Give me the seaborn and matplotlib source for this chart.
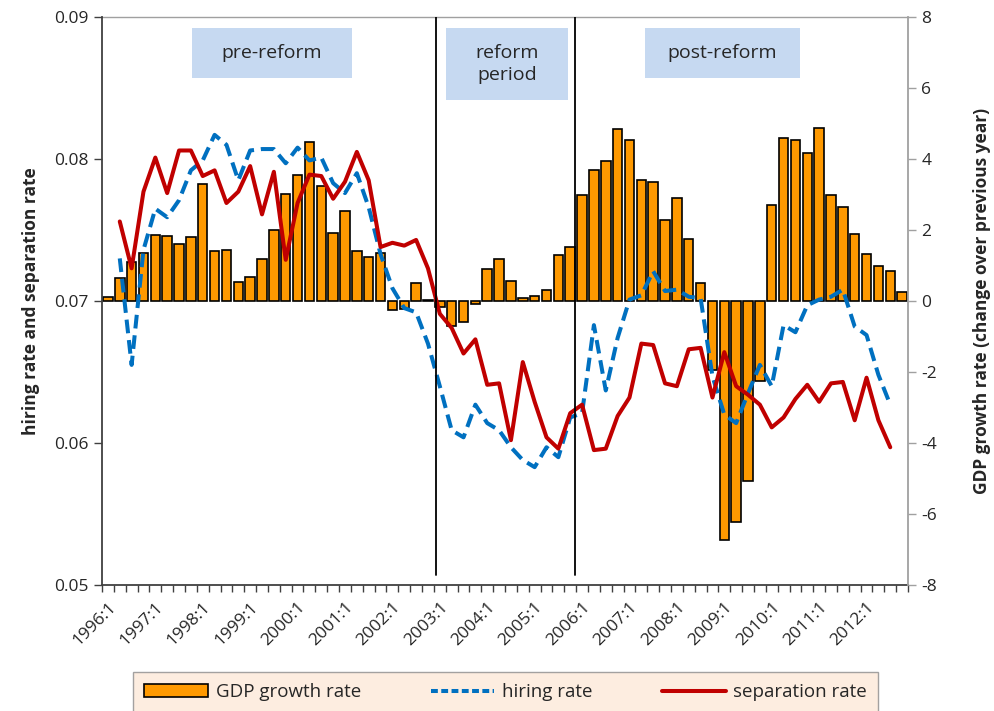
import numpy as np
import pandas as pd
import matplotlib
matplotlib.use("Agg")
import matplotlib.pyplot as plt
import seaborn as sns
from matplotlib.patches import Patch, Rectangle
from matplotlib.lines import Line2D

nan = np.nan

# quarters 1996:1 .. 2012:4
years = list(range(1996, 2013))
quarters = [f"{y}:{q}" for y in years for q in range(1, 5)]

# GDP growth rate (right axis)
gdp = [0.10, 0.66, 1.09, 1.34, 1.85, 1.83, 1.61, 1.81, 3.30, 1.42,
       1.44, 0.54, 0.69, 1.17, 2.00, 3.01, 3.55, 4.47, 3.25, 1.91,
       2.54, 1.41, 1.25, 1.36, -0.25, -0.23, 0.52, 0.02, -0.18, -0.70,
       -0.58, -0.08, 0.90, 1.17, 0.56, 0.09, 0.14, 0.31, 1.30, 1.51,
       2.99, 3.68, 3.93, 4.85, 4.54, 3.41, 3.34, 2.28, 2.91, 1.76,
       0.52, -1.94, -6.73, -6.22, -5.08, -2.25, 2.70, 4.60, 4.54, 4.16,
       4.87, 2.99, 2.66, 1.88, 1.32, 0.99, 0.85, 0.26]

# hiring rate (left axis)
hiring = [nan, 0.0730, 0.0655, 0.0736, 0.0765, 0.0759, 0.0771, 0.0792, 0.0799, 0.0817,
          0.0810, 0.0785, 0.0806, 0.0807, 0.0807, 0.0797, 0.0808, 0.0799, 0.0801, 0.0783,
          0.0776, 0.0790, 0.0766, 0.0733, 0.0709, 0.0695, 0.0692, 0.0670, 0.0640, 0.0609,
          0.0604, 0.0627, 0.0614, 0.0609, 0.0597, 0.0588, 0.0583, 0.0597, 0.0590, 0.0618,
          0.0621, 0.0683, 0.0637, 0.0674, 0.0701, 0.0704, 0.0721, 0.0707, 0.0708, 0.0703,
          0.0702, 0.0647, 0.0620, 0.0614, 0.0635, 0.0655, 0.0640, 0.0683, 0.0678, 0.0697,
          0.0701, 0.0703, 0.0708, 0.0682, 0.0676, 0.0648, 0.0627, nan]

# separation rate (left axis)
separation = [nan, 0.0756, 0.0723, 0.0777, 0.0801, 0.0776, 0.0806, 0.0806, 0.0788, 0.0792,
              0.0769, 0.0777, 0.0795, 0.0761, 0.0791, 0.0729, 0.0769, 0.0789, 0.0788, 0.0772,
              0.0784, 0.0805, 0.0785, 0.0738, 0.0741, 0.0739, 0.0743, 0.0723, 0.0691, 0.0681,
              0.0663, 0.0673, 0.0641, 0.0642, 0.0602, 0.0657, 0.0629, 0.0604, 0.0596, 0.0621,
              0.0627, 0.0595, 0.0596, 0.0619, 0.0632, 0.0670, 0.0669, 0.0642, 0.0640, 0.0666,
              0.0667, 0.0632, 0.0664, 0.0640, 0.0634, 0.0627, 0.0611, 0.0618, 0.0631, 0.0641,
              0.0629, 0.0642, 0.0643, 0.0616, 0.0646, 0.0616, 0.0597, nan]

period_breaks = [27.7, 39.4]
period_names = ["pre-reform", "reform\nperiod", "post-reform"]

left_ticks = [0.05, 0.06, 0.07, 0.08, 0.09]
right_ticks = [-8, -6, -4, -2, 0, 2, 4, 6, 8]

df = pd.DataFrame({"quarter": quarters, "pos": np.arange(len(quarters)),
                   "gdp": gdp, "hiring": hiring, "separation": separation})

sns.set_style("white")
plt.rcParams["font.family"] = ["Open Sans", "DejaVu Sans"]

orange = "#ff9900"
blue = "#0070c0"
red = "#c00000"

fig = plt.figure(figsize=(9.95, 7.11), dpi=100)
ax = fig.add_axes([0.1025, 0.1772, 0.8101, 0.7989])
ax2 = ax.twinx()

# bars on the GDP (right) axis
sns.barplot(data=df, x="quarter", y="gdp", ax=ax, color=orange, saturation=1,
            edgecolor="black", linewidth=1.2, width=0.8)
ax.set_ylim(-8, 8)
ax.yaxis.tick_right()
ax.yaxis.set_label_position("right")
ax.set_yticks(right_ticks)
ax.set_yticklabels([str(t) for t in right_ticks], fontsize=12.5)
ax.set_ylabel("GDP growth rate (change over previous year)", fontsize=12.5,
              fontweight="bold", labelpad=26)
ax.set_xlabel("")

# lines on the rates (left) axis
sns.lineplot(data=df, x="pos", y="hiring", ax=ax2, color=blue, linewidth=2.9)
ax2.lines[-1].set_dashes((3.4, 1.7))
sns.lineplot(data=df, x="pos", y="separation", ax=ax2, color=red, linewidth=2.9)
ax2.set_ylim(0.05, 0.09)
ax2.yaxis.tick_left()
ax2.yaxis.set_label_position("left")
ax2.set_yticks(left_ticks)
ax2.set_yticklabels([f"{t:.2f}" for t in left_ticks], fontsize=12.5)
ax2.set_ylabel("hiring rate and separation rate", fontsize=12.5,
               fontweight="bold", labelpad=10)
ax2.set_xlabel("")

for b in period_breaks:
    ax2.axvline(b, ymin=0.018, ymax=1, color="black", linewidth=1.3)

# x axis: labels every 4 quarters, ticks at category boundaries
ax.set_xlim(-0.5, len(quarters) - 0.5)
ax.set_xticks(df["pos"][::4])
ax.set_xticklabels(df["quarter"][::4], rotation=45, ha="right",
                   rotation_mode="anchor", fontsize=12.5)
ax.set_xticks(np.arange(-0.5, len(quarters), 1), minor=True)
ax.tick_params(axis="x", which="major", length=0, pad=10)
ax.tick_params(axis="x", which="minor", length=5, width=1, color="#404040",
               direction="out", bottom=True)
ax.tick_params(axis="y", length=6, width=1, color="#a0a0a0", direction="out", right=True)
ax2.tick_params(axis="y", length=6, width=1, color="#404040", direction="out", left=True)

for s in ["left", "right", "top", "bottom"]:
    ax2.spines[s].set_visible(False)
    ax.spines[s].set_visible(False)
ax2.spines["left"].set_visible(True)
ax2.spines["left"].set_color("#404040")
ax2.spines["left"].set_linewidth(1.3)
ax2.spines["right"].set_visible(True)
ax2.spines["right"].set_color("#a0a0a0")
ax2.spines["right"].set_linewidth(1.3)
ax.spines["bottom"].set_visible(True)
ax.spines["bottom"].set_color("#404040")
ax.spines["bottom"].set_linewidth(1.3)
ax.spines["top"].set_visible(True)
ax.spines["top"].set_color("#a0a0a0")
ax.spines["top"].set_linewidth(1.0)

# period boxes
box_specs = [(0.1117, 0.8926, 0.1985, 0.088),
             (0.4268, 0.8539, 0.1514, 0.1268),
             (0.6737, 0.8926, 0.1923, 0.088)]
for name, (bx, by, bw, bh) in zip(period_names, box_specs):
    ax2.add_patch(Rectangle((bx, by), bw, bh, transform=ax2.transAxes,
                            facecolor="#c6d9f1", edgecolor="none", zorder=5))
    ax2.text(bx + bw / 2, by + bh / 2, name, transform=ax2.transAxes,
             ha="center", va="center", fontsize=14, zorder=6, linespacing=1.25)

handles = [Patch(facecolor=orange, edgecolor="black", linewidth=1.2),
           Line2D([], [], color=blue, linewidth=2.9, dashes=(1.7, 0.85)),
           Line2D([], [], color=red, linewidth=2.9)]
labels = ["GDP growth rate", "hiring rate", "separation rate"]
leg = fig.legend(handles, labels, loc="lower center", ncol=3, mode="expand",
                 bbox_to_anchor=(0.1337, -0.002, 0.749, 0.1), fontsize=13.5,
                 frameon=True, fancybox=False, facecolor="#fde9d9",
                 edgecolor="#8c8c8c", handlelength=3.4, borderpad=0.6,
                 borderaxespad=0, handletextpad=0.4)
leg.get_frame().set_linewidth(1.0)

fig.savefig("out.png", dpi=100)
